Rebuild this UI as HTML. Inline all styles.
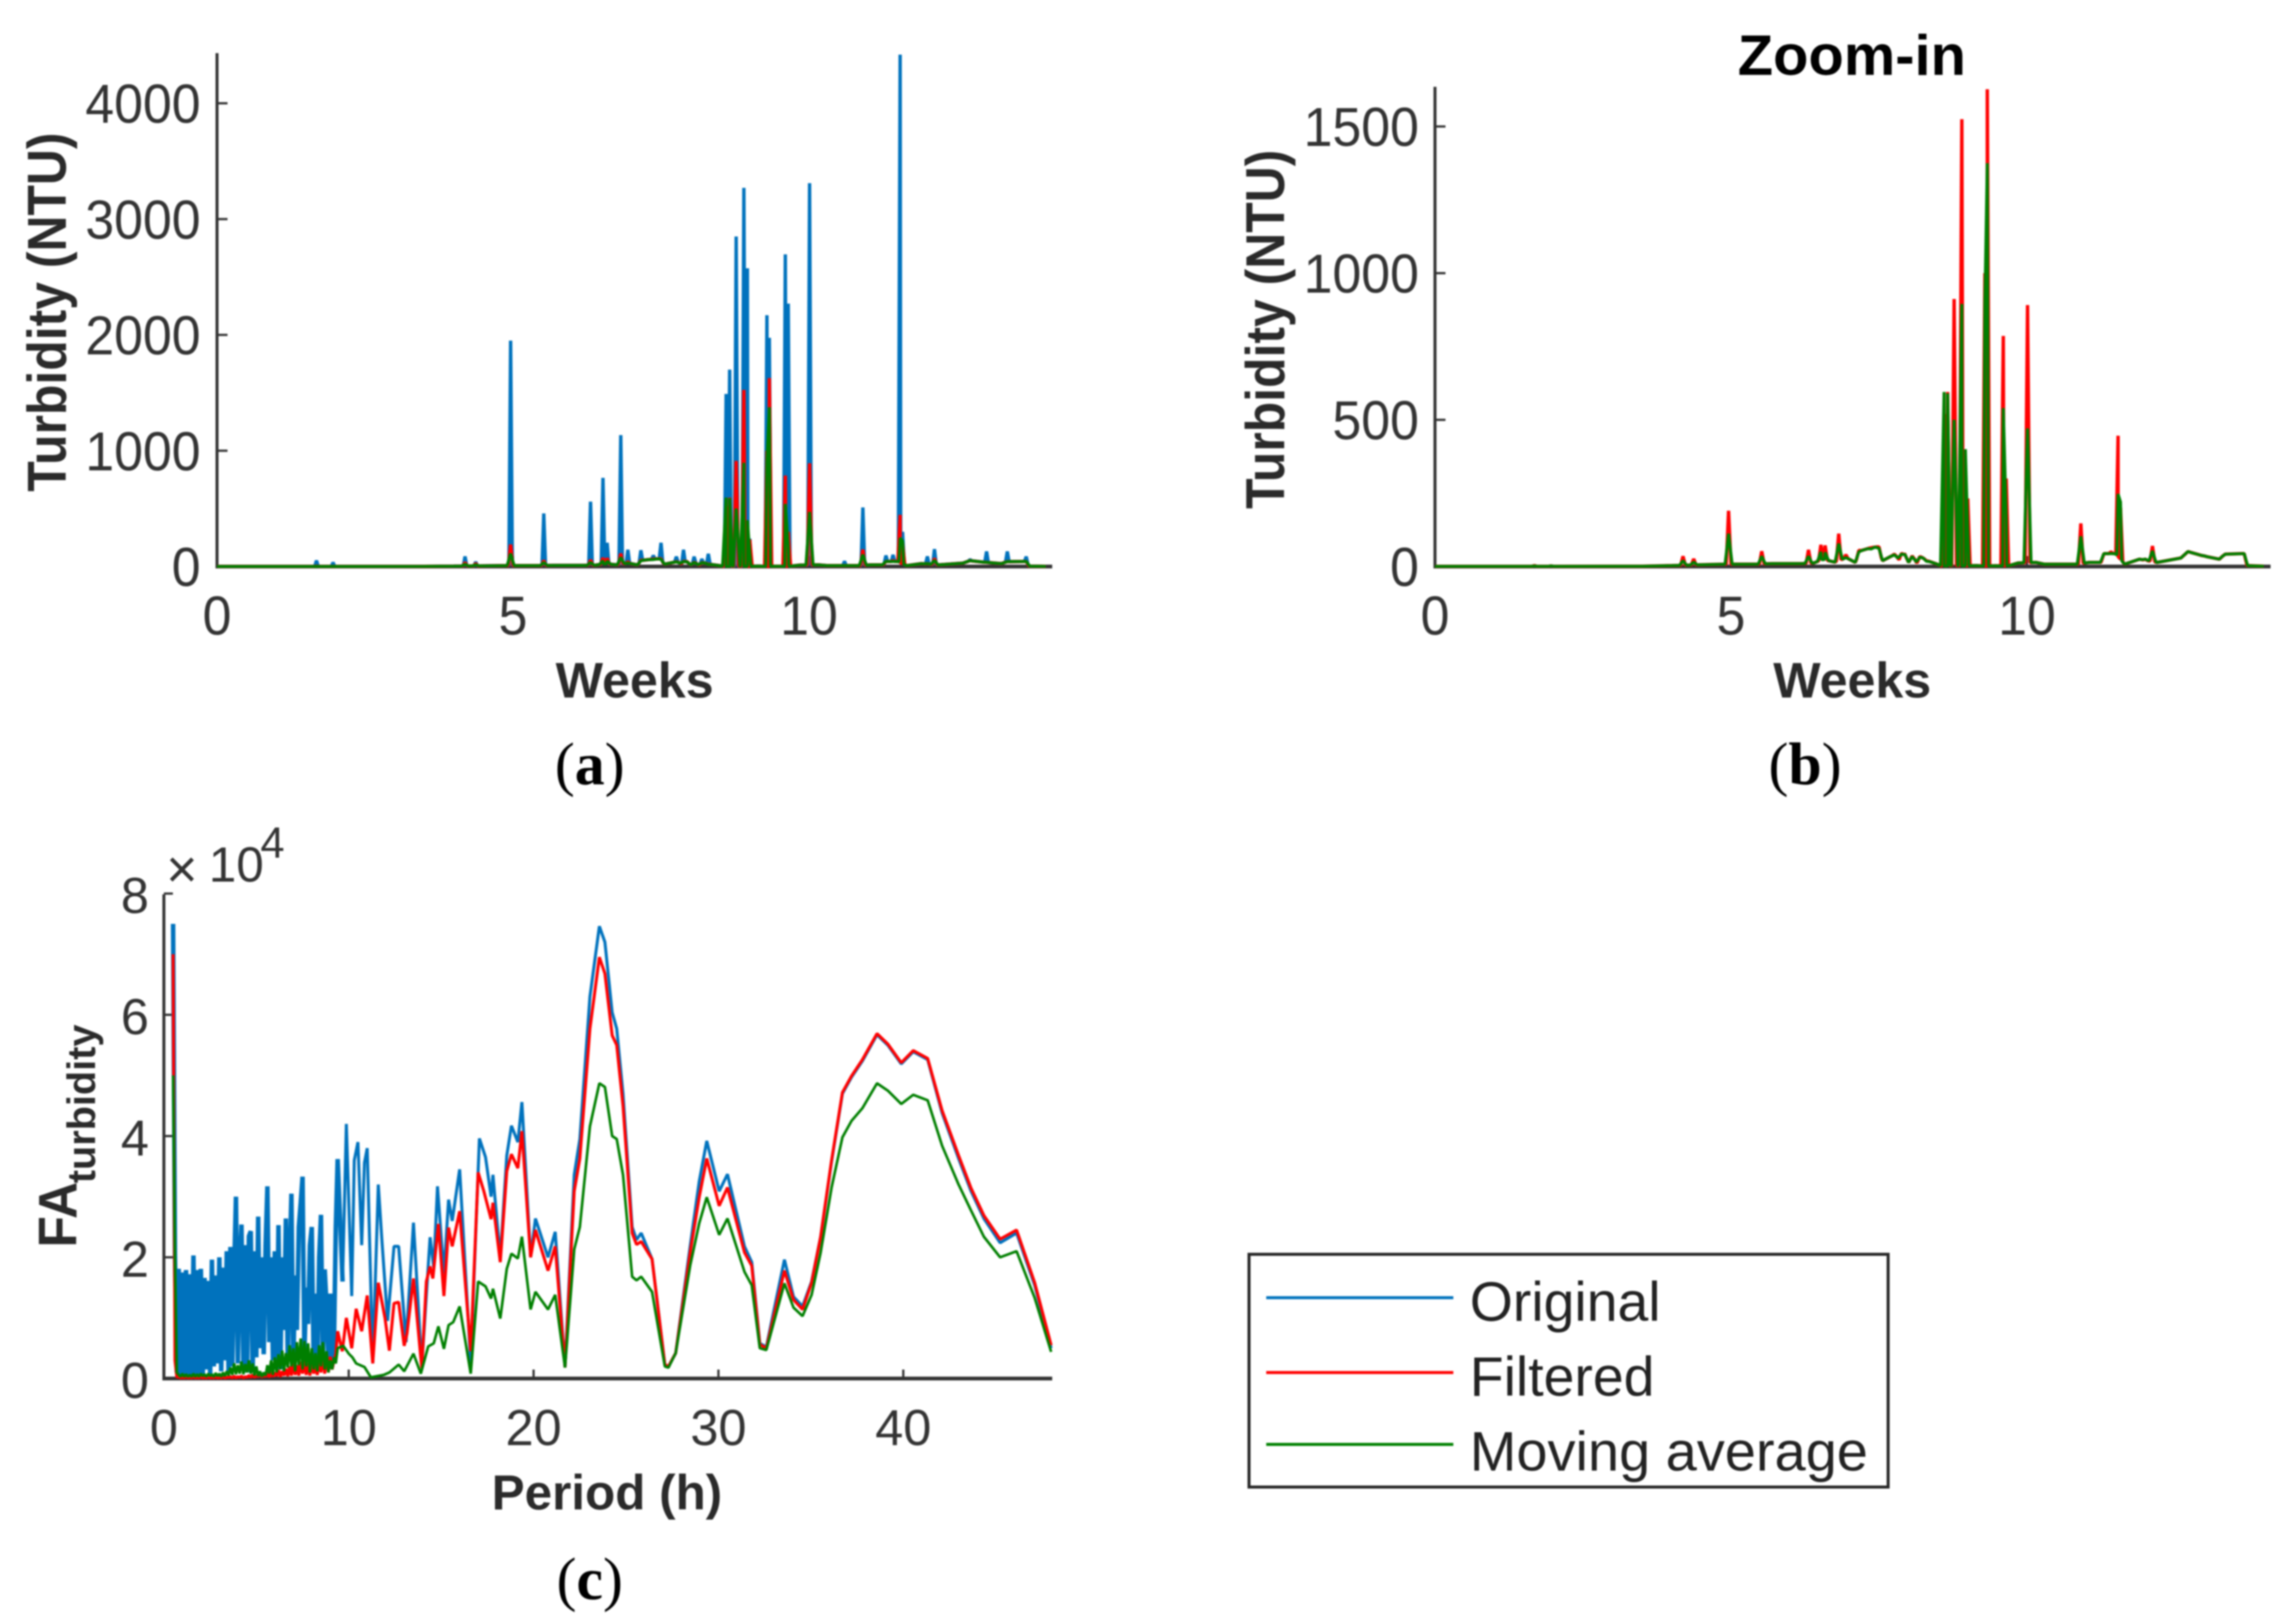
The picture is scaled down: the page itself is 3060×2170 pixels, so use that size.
<!DOCTYPE html>
<html lang="en">
<head>
<meta charset="utf-8">
<title>Turbidity time series and spectrum</title>
<style>
html,body{margin:0;padding:0;background:#fff;}
svg{display:block;filter:blur(1px);}
text{font-family:"Liberation Sans",sans-serif;fill:#333;}
.bold{font-weight:bold;fill:#2a2a2a;}
.cap{font-family:"Liberation Serif",serif;fill:#000;font-size:80px;}
</style>
</head>
<body>
<svg id="figure" xmlns="http://www.w3.org/2000/svg" width="3060" height="2170" viewBox="0 0 3060 2170">
  <rect x="0" y="0" width="3060" height="2170" fill="#fff"/>

  <g id="panel-a"></g>
  <g id="panel-b"></g>
  <g id="panel-c"></g>

  <text class="bold" transform="translate(88,657) rotate(-90)" font-size="73" textLength="480" lengthAdjust="spacingAndGlyphs">Turbidity (NTU)</text>
  <text class="bold" x="848" y="932" font-size="67" text-anchor="middle">Weeks</text>
  <text class="cap" x="788" y="1048" text-anchor="middle">(<tspan font-weight="bold">a</tspan>)</text>

  <text class="bold" style="fill:#000" x="2322" y="100" font-size="76" textLength="305" lengthAdjust="spacingAndGlyphs">Zoom-in</text>
  <text class="bold" transform="translate(1716,680) rotate(-90)" font-size="73" textLength="480" lengthAdjust="spacingAndGlyphs">Turbidity (NTU)</text>
  <text class="bold" x="2475" y="932" font-size="67" text-anchor="middle">Weeks</text>
  <text class="cap" x="2412" y="1048" text-anchor="middle">(<tspan font-weight="bold">b</tspan>)</text>

  <text class="bold" transform="translate(102,1667) rotate(-90)" font-size="72" textLength="88" lengthAdjust="spacingAndGlyphs">FA</text>
  <text class="bold" transform="translate(127,1581) rotate(-90)" font-size="53">turbidity</text>
  <text class="bold" x="811" y="2017" font-size="66" text-anchor="middle">Period (h)</text>
  <text x="222" y="1186" font-size="72" fill="#404040">×</text>
  <text x="279" y="1178" font-size="66">10</text>
  <text x="348" y="1146" font-size="58">4</text>
  <text class="cap" x="788" y="2137" text-anchor="middle">(<tspan font-weight="bold">c</tspan>)</text>

  <g>
    <rect x="1669" y="1676" width="854" height="311" fill="#fff" stroke="#262626" stroke-width="4"/>
    <line x1="1692" y1="1734" x2="1942" y2="1734" stroke="#0072BD" stroke-width="4"/>
    <text x="1964" y="1765" font-size="74" style="fill:#222">Original</text>
    <line x1="1692" y1="1834" x2="1942" y2="1834" stroke="#FF0000" stroke-width="4"/>
    <text x="1964" y="1865" font-size="74" style="fill:#222">Filtered</text>
    <line x1="1692" y1="1930" x2="1942" y2="1930" stroke="#008000" stroke-width="4"/>
    <text x="1964" y="1965" font-size="74" textLength="532" lengthAdjust="spacingAndGlyphs" style="fill:#222">Moving average</text>
  </g>
</svg>

<script>
// ---- turbidity time series (panels a and b) ----
var spikeWeeks = [1.68,1.96,4.19,4.37,4.96,5.52,6.31,6.52,6.59,6.82,6.94,7.16,7.37,7.5,7.76,7.88,8.06,8.19,8.3,8.6,8.66,8.77,8.9,8.96,9.0,9.29,9.33,9.6,9.65,10.01,10.6,10.91,11.3,11.42,11.54,11.58,12.0,12.12,12.72,13.0,13.35,13.67];
var spikeOriginal = [52,35,87,40,1950,458,560,765,205,1135,145,140,95,205,85,145,85,65,110,1490,1700,2850,3270,2575,240,2170,1975,2695,2270,3310,45,510,95,100,4420,300,87,150,60,130,130,85];
var spikeFiltered = [3,2,35,26,190,52,57,74,72,112,40,55,64,67,42,45,36,34,20,520,595,912,1525,300,232,1000,1627,786,300,891,8,147,44,50,446,200,25,70,51,36,42,44];
var spikeAverage = [2,2,20,15,112,35,35,50,48,78,30,50,60,62,40,42,34,32,18,595,590,500,895,400,116,900,1375,540,160,471,8,103,44,44,247,220,25,53,51,36,42,44];
var floorWeeks = [0,3.5,4.0,4.5,4.9,5.1,5.4,5.7,6.2,6.4,6.55,6.75,6.95,7.1,7.18,7.36,7.47,7.56,7.77,7.86,7.93,8.0,8.07,8.14,8.2,8.34,8.47,8.55,9.15,9.25,9.7,9.85,10.15,10.3,10.85,11.05,11.25,11.3,11.5,11.65,11.9,12.2,12.6,12.72,12.98,13.25,13.34,13.66,13.72,14];
var floorLevels = [0.5,1,3,6,8,8,8,10,10,12,25,15,30,14,53,64,67,20,42,18,45,14,36,12,34,18,9,2,3,2,3,12,14,8,8,14,14,44,44,8,25,14,29,51,36,25,42,44,3,1];
var weekTicks = [0,5,10];
var weekTickLabels = ['0','5','10'];
var turbidityTicksA = [0,1000,2000,3000,4000];
var turbidityTickLabelsA = ['0','1000','2000','3000','4000'];
var turbidityTicksB = [0,500,1000,1500];
var turbidityTickLabelsB = ['0','500','1000','1500'];

// ---- spectrum (panel c): dense part sampled every 0.1 h from 0.5 h to 9.4 h ----
var denseStartHour = 0.5;
var denseStepHour = 0.1;
var denseOriginal = [
7.5,2.05,.1,1.81,.05,1.75,.02,1.79,.03,1.72,
.02,2.03,.05,1.79,.04,1.81,.03,1.66,.15,1.61,
.05,1.96,.2,1.7,.25,2.0,.12,1.83,.3,2.1,
.1,2.17,.2,1.8,3.0,.25,1.9,2.54,.2,2.2,
.1,2.35,2.43,.1,2.1,.35,2.67,.5,2.0,.4,
2.2,3.17,.6,2.0,.3,2.1,.2,2.53,.15,2.0,
.8,2.64,.3,1.9,3.05,.2,1.7,.8,2.5,2.9,
3.33,.4,1.5,.9,2.2,2.5,.3,1.4,.2,2.0,
2.7,.3,1.8,1.2,.3,1.4,.2,.5,2.5,3.62];
var denseFiltered = [
7.0,.3,.02,.03,.01,.02,.01,.03,.01,.02,
.01,.03,.01,.02,.01,.03,.01,.02,.01,.03,
.01,.02,.01,.03,.01,.02,.01,.03,.01,.02,
.02,.03,.01,.04,.01,.03,.02,.04,.01,.03,
.02,.05,.02,.06,.02,.05,.03,.08,.02,.06,
.03,.1,.02,.12,.03,.1,.04,.14,.03,.12,
.05,.16,.04,.2,.05,.25,.06,.22,.05,.28,
.08,.3,.06,.26,.05,.3,.08,.22,.06,.34,
.1,.38,.08,.42,.1,.36,.15,.3,.4,.78];
var denseAverage = [
5.0,2.0,.1,.06,.03,.08,.03,.07,.03,.06,
.03,.08,.03,.07,.03,.08,.04,.07,.03,.08,
.04,.07,.03,.09,.04,.08,.03,.1,.04,.12,
.05,.18,.06,.25,.07,.22,.08,.28,.07,.24,
.1,.3,.08,.25,.05,.2,.04,.12,.03,.1,
.05,.22,.08,.3,.06,.35,.1,.4,.15,.46,
.12,.42,.18,.55,.2,.5,.12,.6,.22,.66,
.15,.62,.2,.58,.1,.5,.15,.42,.12,.55,
.2,.6,.15,.45,.1,.3,.15,.35,.25,.5];
var midOriginalHours = [9.67,9.87,10.16,10.3,10.5,10.7,10.85,11,11.3,11.6,11.8,12.1,12.45,12.7,13.1,13.5,13.95,14.4,14.6,14.8,15.15,15.4,15.6,16,16.6,17.07,17.4,17.7,17.8,18.2,18.55,18.8,19.15];
var midOriginal = [1.6,4.2,1.36,3.6,3.9,2.2,3.56,3.8,.25,3.2,2.25,.95,2.18,2.18,.6,2.57,.2,2.33,1.83,3.17,1.72,2.95,2.6,3.45,.25,3.96,3.65,3.0,3.36,1.98,3.68,4.17,3.9];
var midFilteredHours = [9.65,9.87,10.16,10.4,10.7,11,11.3,11.6,11.96,12.2,12.45,12.7,13,13.15,13.5,13.95,14.2,14.4,14.55,14.85,15.15,15.4,15.6,16,16.6,17,17.3,17.7,17.8,18.2,18.55,18.8,19.15];
var midFiltered = [.45,1.0,.5,1.15,.78,1.37,.25,1.58,1.0,.46,1.24,1.26,.54,.74,1.65,.17,1.6,1.85,1.65,2.55,1.36,2.49,2.18,2.76,.45,3.4,3.1,2.63,2.9,1.92,3.42,3.7,3.47];
var midAverageHours = [9.7,10,10.2,10.4,10.85,11.2,11.9,12.2,12.7,13,13.5,13.9,14.3,14.6,14.85,15.15,15.4,15.65,16,16.6,17,17.4,17.7,17.8,18.2,18.55,18.8,19.15];
var midAverage = [.54,.41,.35,.25,.19,.02,.06,.1,.23,.12,.41,.08,.53,.58,.86,.49,.88,.93,1.19,.08,1.6,1.52,1.32,1.48,.99,1.81,2.06,1.98];
var tailHours = [19.37,19.84,20.1,20.78,21.17,21.7,22.2,22.5,23.05,23.56,23.86,24.25,24.5,24.84,25.33,25.57,25.82,26.41,27.1,27.3,27.69,28.47,28.96,29.37,30.04,30.49,31.41,31.8,32.24,32.59,33.57,34.06,34.55,35.04,35.53,36.12,36.71,37.2,37.79,38.58,39.16,39.89,40.54,41.32,42.1,42.99,43.67,44.36,45.24,46.13,47.11,48];
var tailOriginal = [4.56,2.0,2.64,2.0,2.42,.18,3.36,3.95,6.3,7.46,7.2,6.04,5.77,4.7,2.5,2.29,2.4,1.97,.23,.2,.42,2.18,3.25,3.92,3.09,3.37,2.18,1.92,.58,.52,1.96,1.35,1.19,1.6,2.34,3.58,4.7,4.97,5.24,5.67,5.5,5.19,5.39,5.26,4.38,3.63,3.09,2.64,2.24,2.4,1.54,.5];
var tailFiltered = [4.08,2.0,2.45,1.78,2.18,.18,3.09,3.63,5.77,6.95,6.68,5.66,5.5,4.5,2.4,2.21,2.26,1.97,.23,.2,.42,2.08,2.99,3.63,2.85,3.15,2.08,1.86,.56,.5,1.78,1.3,1.14,1.58,2.34,3.6,4.72,4.99,5.26,5.69,5.52,5.21,5.41,5.28,4.42,3.68,3.14,2.69,2.3,2.45,1.58,.55];
var tailAverage = [2.34,1.14,1.43,1.14,1.38,.18,2.13,2.5,4.16,4.87,4.81,4.0,3.95,3.36,1.68,1.62,1.68,1.43,.2,.18,.42,1.86,2.56,2.99,2.37,2.64,1.76,1.54,.5,.47,1.57,1.17,1.03,1.38,2.08,3.15,3.98,4.25,4.46,4.87,4.75,4.53,4.68,4.59,3.84,3.2,2.77,2.34,2.0,2.1,1.33,.44];
var periodTicks = [0,10,20,30,40];
var periodTickLabels = ['0','10','20','30','40'];
var amplitudeTicks = [0,2,4,6,8];
var amplitudeTickLabels = ['0','2','4','6','8'];

var SVGNS = 'http://www.w3.org/2000/svg';
var AXIS_COLOR = '#333';

// axis functions
function xWeekA(w){ return 290 + 79.1 * w; }
function yTurbA(v){ return 757 - 0.15475 * v; }
function xWeekB(w){ return 1917.5 + 79.1 * w; }
function yTurbB(v){ return 757 - 0.392 * v; }
function xPeriod(h){ return 219 + 24.7 * h; }
function yAmp(v){ return 1842 - 81 * v; }

function addLine(parent, name, x1, y1, x2, y2, color, width){
  var el = document.createElementNS(SVGNS, 'line');
  
  
  el.setAttribute('x1', x1);
  el.setAttribute('y1', y1);
  el.setAttribute('x2', x2);
  el.setAttribute('y2', y2);
  el.setAttribute('stroke', color);
  el.setAttribute('stroke-width', width);
  parent.appendChild(el);
}
function addLabel(parent, name, x, y, str, size, anchor, length){
  var el = document.createElementNS(SVGNS, 'text');
  
  
  el.setAttribute('x', x);
  el.setAttribute('y', y);
  el.setAttribute('font-size', size);
  el.setAttribute('text-anchor', anchor);
  if (length) {
    el.setAttribute('textLength', length);
    el.setAttribute('lengthAdjust', 'spacingAndGlyphs');
  }
  el.textContent = str;
  parent.appendChild(el);
}
function addTrace(parent, name, pts, xf, yf, color, width){
  var el = document.createElementNS(SVGNS, 'polyline');
  
  
  var s = [];
  for (var i = 0; i < pts.length; i++) {
    s.push(xf(pts[i][0]).toFixed(1) + ',' + yf(pts[i][1]).toFixed(1));
  }
  el.setAttribute('points', s.join(' '));
  el.setAttribute('fill', 'none');
  el.setAttribute('stroke', color);
  el.setAttribute('stroke-width', width);
  el.setAttribute('stroke-linejoin', 'bevel');
  parent.appendChild(el);
}
function floorAt(w){
  for (var i = 1; i < floorWeeks.length; i++) {
    if (w <= floorWeeks[i]) {
      var t = (w - floorWeeks[i-1]) / (floorWeeks[i] - floorWeeks[i-1]);
      return floorLevels[i-1] + t * (floorLevels[i] - floorLevels[i-1]);
    }
  }
  return floorLevels[floorLevels.length-1];
}
// Merge the low-level floor with the spikes of one series.
function weeklySeries(values, halfWidth){
  var pts = [];
  for (var i = 0; i < floorWeeks.length; i++) {
    var inside = false;
    for (var j = 0; j < spikeWeeks.length; j++) {
      if (Math.abs(floorWeeks[i] - spikeWeeks[j]) <= halfWidth) inside = true;
    }
    if (!inside) pts.push([floorWeeks[i], floorLevels[i]]);
  }
  for (var k = 0; k < spikeWeeks.length; k++) {
    var w = spikeWeeks[k];
    pts.push([w - halfWidth, floorAt(w - halfWidth)]);
    pts.push([w, values[k]]);
    pts.push([w + halfWidth, floorAt(w + halfWidth)]);
  }
  pts.sort(function(a, b){ return a[0] - b[0]; });
  return pts;
}
function spectrumSeries(dense, midHours, mid, tail){
  var pts = [];
  for (var i = 0; i < dense.length; i++) {
    pts.push([denseStartHour + i * denseStepHour, dense[i]]);
  }
  for (var j = 0; j < midHours.length; j++) {
    pts.push([midHours[j], mid[j]]);
  }
  for (var k = 0; k < tailHours.length; k++) {
    pts.push([tailHours[k], tail[k]]);
  }
  return pts;
}
function drawAxes(g, prefix, xf, yf, left, right, top, base, xTicks, xLabels, yTicks, yLabels, size, xBase, yRight, yOff, digitWidth, tickLen){
  addLine(g, prefix + '-y-axis-line', left, top, left, base + 2, AXIS_COLOR, 4);
  addLine(g, prefix + '-x-axis-line', left - 2, base, right, base, AXIS_COLOR, 5);
  for (var i = 0; i < xTicks.length; i++) {
    var x = xf(xTicks[i]);
    addLine(g, prefix + '-x-tick', x, base, x, base - tickLen, AXIS_COLOR, 3);
    addLabel(g, prefix + '-x-tick-label', x, xBase, xLabels[i], size, 'middle', xLabels[i].length * digitWidth);
  }
  for (var j = 0; j < yTicks.length; j++) {
    var y = yf(yTicks[j]);
    addLine(g, prefix + '-y-tick', left, y, left + tickLen, y, AXIS_COLOR, 3);
    addLabel(g, prefix + '-y-tick-label', yRight, y + yOff, yLabels[j], size, 'end', yLabels[j].length * digitWidth);
  }
}

// Panel a
var pa = document.getElementById('panel-a');
drawAxes(pa, 'panel-a', xWeekA, yTurbA, 290, 1406, 71, 757, weekTicks, weekTickLabels, turbidityTicksA, turbidityTickLabelsA, 73, 848, 268, 26, 38.5, 14);
addTrace(pa, 'panel-a-series-original', weeklySeries(spikeOriginal, 0.03), xWeekA, yTurbA, '#0072BD', 4.5);
addTrace(pa, 'panel-a-series-filtered', weeklySeries(spikeFiltered, 0.04), xWeekA, yTurbA, '#FF0000', 4.5);
addTrace(pa, 'panel-a-series-moving-average', weeklySeries(spikeAverage, 0.06), xWeekA, yTurbA, '#007F00', 4);

// Panel b
var pb = document.getElementById('panel-b');
drawAxes(pb, 'panel-b', xWeekB, yTurbB, 1917.5, 3034, 116, 757, weekTicks, weekTickLabels, turbidityTicksB, turbidityTickLabelsB, 73, 848, 1896, 26, 38.5, 14);
addTrace(pb, 'panel-b-series-filtered', weeklySeries(spikeFiltered, 0.04), xWeekB, yTurbB, '#FF0000', 4.5);
addTrace(pb, 'panel-b-series-moving-average', weeklySeries(spikeAverage, 0.06), xWeekB, yTurbB, '#007F00', 4);

// Panel c
var pc = document.getElementById('panel-c');
drawAxes(pc, 'panel-c', xPeriod, yAmp, 219, 1406, 1195, 1842, periodTicks, periodTickLabels, amplitudeTicks, amplitudeTickLabels, 68, 1931, 199, 26, 37.5, 12);
var originalTrace = spectrumSeries(denseOriginal, midOriginalHours, midOriginal, tailOriginal);
var denseCount = denseOriginal.length;
addTrace(pc, 'panel-c-series-original-dense', originalTrace.slice(0, denseCount + 1), xPeriod, yAmp, '#0072BD', 6);
addTrace(pc, 'panel-c-series-original', originalTrace.slice(denseCount), xPeriod, yAmp, '#0072BD', 4);
addTrace(pc, 'panel-c-series-filtered', spectrumSeries(denseFiltered, midFilteredHours, midFiltered, tailFiltered), xPeriod, yAmp, '#FF0000', 4);
addTrace(pc, 'panel-c-series-moving-average', spectrumSeries(denseAverage, midAverageHours, midAverage, tailAverage), xPeriod, yAmp, '#007F00', 3.5);
</script>
</body>
</html>
